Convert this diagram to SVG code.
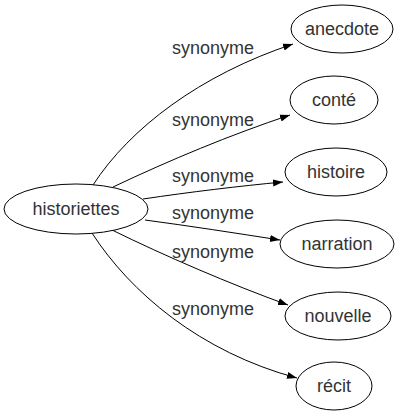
<svg xmlns="http://www.w3.org/2000/svg" width="400" height="419" viewBox="0 0 400 419">
<style>
.n ellipse{fill:#fff;stroke:#000;stroke-width:1}
text{font-family:"Liberation Sans",Arial,sans-serif;font-size:18px;fill:#333;text-anchor:middle}
.e path{fill:none;stroke:#000;stroke-width:1}
</style>
<defs>
<marker id="a" viewBox="0 0 10 10" refX="10" refY="5" markerWidth="10" markerHeight="10" markerUnits="userSpaceOnUse" orient="auto">
<path d="M0,1.5L10,5L0,8.5z" fill="#000"/>
</marker>
</defs>
<rect width="400" height="419" fill="#fff"/>
<g class="e">
<path d="M93,185C130,128 200,75 293,44" marker-end="url(#a)"/>
<path d="M113,187C170,160 230,135 290,115" marker-end="url(#a)"/>
<path d="M143,199C190,192 240,186 283,182" marker-end="url(#a)"/>
<path d="M145,220C190,226 235,233 280,240" marker-end="url(#a)"/>
<path d="M112,230C165,256 230,284 288,305" marker-end="url(#a)"/>
<path d="M92,233C130,292 200,352 297,378" marker-end="url(#a)"/>
<text x="213" y="54">synonyme</text>
<text x="213" y="126">synonyme</text>
<text x="213" y="182">synonyme</text>
<text x="213" y="219">synonyme</text>
<text x="213" y="258">synonyme</text>
<text x="213" y="315">synonyme</text>
</g>
<g id="historiettes" class="n"><ellipse cx="76" cy="209" rx="72" ry="25"/><text x="76" y="215">historiettes</text></g>
<g id="anecdote" class="n"><ellipse cx="342" cy="29" rx="51" ry="24"/><text x="342" y="35">anecdote</text></g>
<g id="conte" class="n"><ellipse cx="334" cy="100" rx="44" ry="24"/><text x="334" y="106">conté</text></g>
<g id="histoire" class="n"><ellipse cx="336" cy="172" rx="51" ry="24"/><text x="336" y="178">histoire</text></g>
<g id="narration" class="n"><ellipse cx="337" cy="244" rx="57" ry="24"/><text x="337" y="250">narration</text></g>
<g id="nouvelle" class="n"><ellipse cx="338" cy="316" rx="53" ry="24"/><text x="338" y="322">nouvelle</text></g>
<g id="recit" class="n"><ellipse cx="334" cy="386" rx="38" ry="24"/><text x="334" y="392">récit</text></g>
</svg>
